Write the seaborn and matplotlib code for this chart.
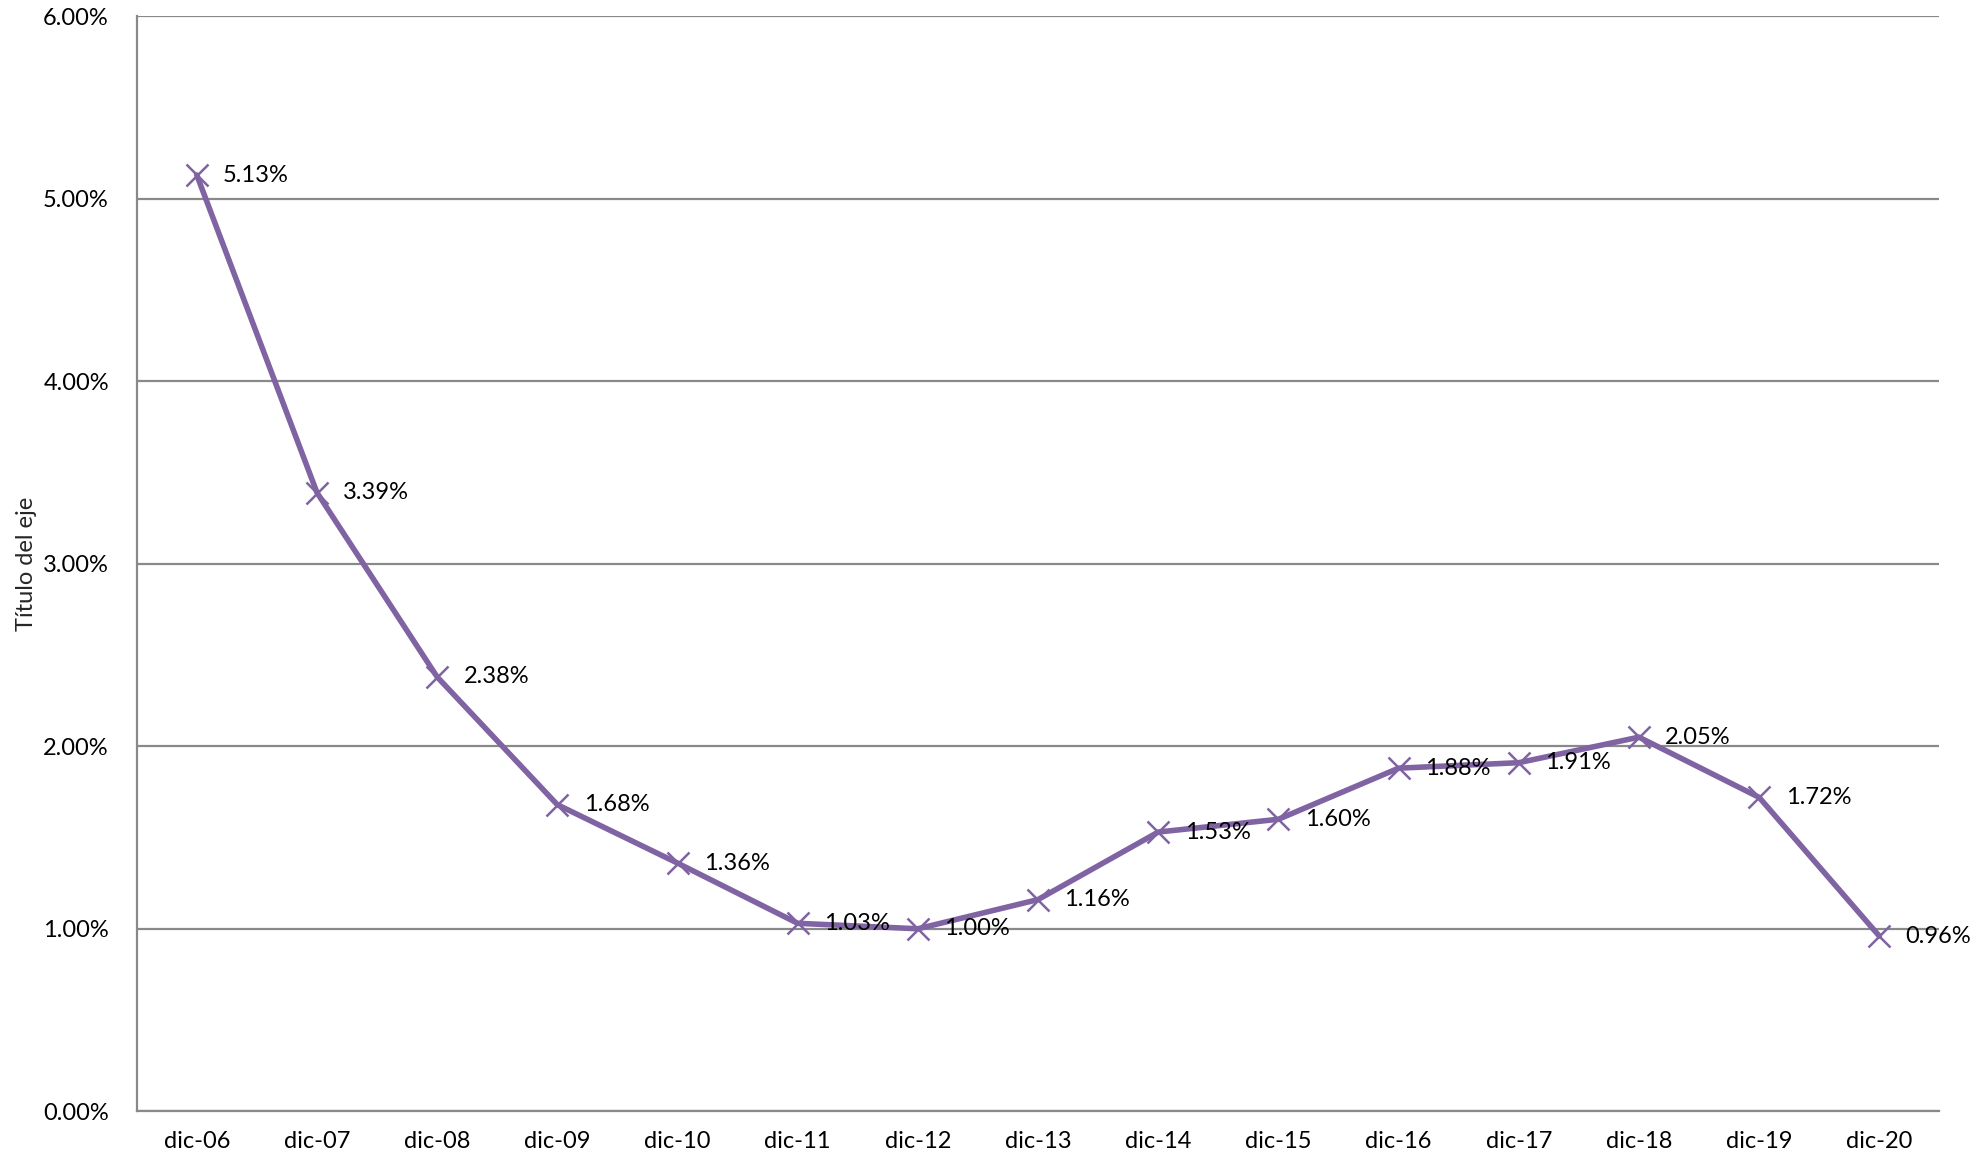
import numpy as np
import pandas as pd
import matplotlib
matplotlib.use("Agg")
import matplotlib.pyplot as plt
import seaborn as sns
from matplotlib.ticker import FuncFormatter

# Data
periods = ["dic-06", "dic-07", "dic-08", "dic-09", "dic-10", "dic-11", "dic-12", "dic-13",
           "dic-14", "dic-15", "dic-16", "dic-17", "dic-18", "dic-19", "dic-20"]
rates = [5.13, 3.39, 2.38, 1.68, 1.36, 1.03, 1.00, 1.16, 1.53, 1.60, 1.88, 1.91, 2.05, 1.72, 0.96]
y_ticks = [0, 1, 2, 3, 4, 5, 6]

df = pd.DataFrame({"periodo": periods, "tasa": rates})

sns.set_style("white")
plt.rcParams['font.family'] = ['Lato', 'DejaVu Sans']

purple = "#7F63A2"
grid_gray = "#898989"

fig = plt.figure(figsize=(19.81, 11.60), dpi=100)
ax = fig.add_axes([0.069, 0.042, 0.910, 0.944])

sns.lineplot(data=df, x="periodo", y="tasa", ax=ax, color=purple, linewidth=4,
             marker="x", markersize=16, markeredgewidth=1.8, markeredgecolor=purple,
             sort=False)

# data labels to the right of each point
for i, v in enumerate(df["tasa"]):
    ax.annotate("{:.2f}%".format(v), (i, v), xytext=(19, 0), textcoords="offset points",
                ha="left", va="center", fontsize=17, color="black")

ax.set_xlim(-0.5, len(periods) - 0.5)
ax.set_ylim(0, 6)
ax.set_yticks(y_ticks)
ax.yaxis.set_major_formatter(FuncFormatter(lambda v, p: "{:.2f}%".format(v)))

ax.grid(axis="y", color=grid_gray, linewidth=1.6)
ax.grid(axis="x", visible=False)
ax.set_axisbelow(True)

for side in ["top", "right"]:
    ax.spines[side].set_visible(False)
for side in ["left", "bottom"]:
    ax.spines[side].set_color(grid_gray)
    ax.spines[side].set_linewidth(1.6)

ax.tick_params(axis="both", length=0, labelsize=17, colors="black")
ax.tick_params(axis="x", pad=14)
ax.tick_params(axis="y", pad=20)

ax.set_xlabel("")
ax.set_ylabel("Título del eje", fontsize=17, labelpad=4)

fig.savefig("out.png", dpi=100)
